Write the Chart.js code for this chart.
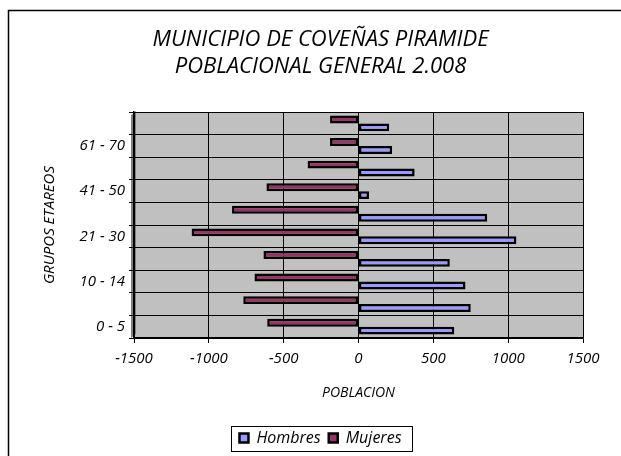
<!DOCTYPE html>
<html>
<head>
<meta charset="utf-8">
<script src="https://cdn.jsdelivr.net/npm/chart.js"></script>
<style>
  html, body { margin: 0; padding: 0; background: #fff; }
  #wrap { width: 621px; height: 456px; }
</style>
</head>
<body>
<div id="wrap"><canvas id="pyramid" width="621" height="456"></canvas></div>
<script>
// grupos de edad, de abajo hacia arriba
const grupos = ['0 - 5', '6 - 9', '10 - 14', '15 - 20', '21 - 30', '31 - 40', '41 - 50', '51 - 60', '61 - 70', '71 - 80'];
const hombres = [640, 750, 715, 610, 1055, 860, 70, 375, 225, 205];
const mujeres = [-610, -770, -695, -635, -1115, -845, -615, -340, -190, -190];
const xMin = -1500;
const xMax = 1500;
const xStep = 500;

const fuente = 'Open Sans';

// marco de la grafica (solo arriba e izquierda, el resto queda cortado)
const marco = {
  id: 'marco',
  afterDraw(chart) {
    const c = chart.ctx;
    c.save();
    c.strokeStyle = '#000';
    c.lineWidth = 1.5;
    c.beginPath();
    c.moveTo(621, 10.5);
    c.lineTo(8.5, 10.5);
    c.lineTo(8.5, 456);
    c.stroke();
    c.restore();
  }
};

// centrar titulo y leyenda sobre la hoja, no sobre el area libre
const centrar = {
  id: 'centrar',
  afterLayout(chart) {
    const d = 24;
    chart.titleBlock.left += d;
    chart.titleBlock.right += d;
    chart.legend.left += d;
    chart.legend.right += d;
  }
};

// fondo gris del area de trazado y pared lateral
const fondo = {
  id: 'fondo',
  beforeDraw(chart) {
    const a = chart.chartArea;
    const c = chart.ctx;
    c.save();
    c.fillStyle = '#C0C0C0';
    c.fillRect(a.left, a.top, a.right - a.left, a.bottom - a.top);
    c.fillStyle = '#808080';
    c.beginPath();
    c.moveTo(a.left - 3, a.top + 3);
    c.lineTo(a.left + 2, a.top - 1);
    c.lineTo(a.left + 2, a.bottom - 4);
    c.lineTo(a.left - 3, a.bottom);
    c.closePath();
    c.fill();
    c.restore();
  }
};

// recuadro de la leyenda
const cajaLeyenda = {
  id: 'cajaLeyenda',
  afterDraw(chart) {
    const lg = chart.legend;
    if (!lg || !lg.lineWidths) return;
    const pad = lg.options.labels.padding;
    const lw = lg.lineWidths[0];
    const x0 = (lg.left + pad + lg.right - lw) / 2;
    const cy = lg.top + lg.height / 2;
    const c = chart.ctx;
    c.save();
    c.strokeStyle = '#000';
    c.lineWidth = 1;
    c.strokeRect(Math.round(x0) - 7.5, Math.round(cy) - 12.5, Math.round(lw) + 11, 25);
    c.restore();
  }
};

new Chart(document.getElementById('pyramid'), {
  type: 'bar',
  data: {
    labels: grupos,
    datasets: [
      {
        label: 'Mujeres',
        data: mujeres,
        backgroundColor: '#993366',
        borderColor: '#000',
        borderWidth: 2.5,
        borderSkipped: false
      },
      {
        label: 'Hombres',
        data: hombres,
        backgroundColor: '#9999FF',
        borderColor: '#000',
        borderWidth: 2.5,
        borderSkipped: false
      }
    ]
  },
  options: {
    indexAxis: 'y',
    responsive: false,
    animation: false,
    categoryPercentage: 0.7,
    barPercentage: 1.0,
    layout: { padding: { left: 10, right: 38, top: 0, bottom: 0 } },
    plugins: {
      title: {
        display: true,
        text: ['MUNICIPIO DE COVEÑAS PIRAMIDE', 'POBLACIONAL GENERAL 2.008'],
        color: '#000',
        font: { family: fuente, size: 22, style: 'italic', weight: 'normal', lineHeight: 1.23 },
        padding: { top: 26, bottom: 32 }
      },
      legend: {
        position: 'bottom',
        reverse: true,
        labels: {
          color: '#000',
          font: { family: fuente, size: 16, style: 'italic' },
          boxWidth: 9,
          boxHeight: 9,
          padding: 8,
          useBorderRadius: false
        }
      },
      tooltip: { enabled: false }
    },
    scales: {
      x: {
        min: xMin,
        max: xMax,
        ticks: {
          stepSize: xStep,
          color: '#000',
          font: { family: fuente, size: 15, style: 'italic' },
          padding: 7,
          maxRotation: 0,
          callback(v) { return String(v); }
        },
        grid: { color: '#000', lineWidth: 1, tickLength: 5, drawTicks: true },
        border: { color: '#000', width: 1.5 },
        title: {
          display: true,
          text: 'POBLACION',
          color: '#000',
          font: { family: fuente, size: 14, style: 'italic' },
          padding: { top: 16, bottom: 21 }
        },
        afterFit(s) { s.height = 84; }
      },
      y: {
        reverse: true,
        offset: true,
        ticks: {
          color: '#000',
          font: { family: fuente, size: 15, style: 'italic' },
          padding: 4,
          autoSkip: false,
          callback(v, i) { return i % 2 === 0 ? grupos[i] : ''; }
        },
        grid: { color: '#000', lineWidth: 1, offset: true, tickLength: 5 },
        border: { color: '#000', width: 1.5 },
        title: {
          display: true,
          text: 'GRUPOS ETAREOS',
          color: '#000',
          font: { family: fuente, size: 15, style: 'italic' },
          padding: { top: 31, bottom: 10 }
        },
        afterFit(s) { s.width = 124; }
      }
    }
  },
  plugins: [fondo, marco, centrar, cajaLeyenda]
});
</script>
</body>
</html>
